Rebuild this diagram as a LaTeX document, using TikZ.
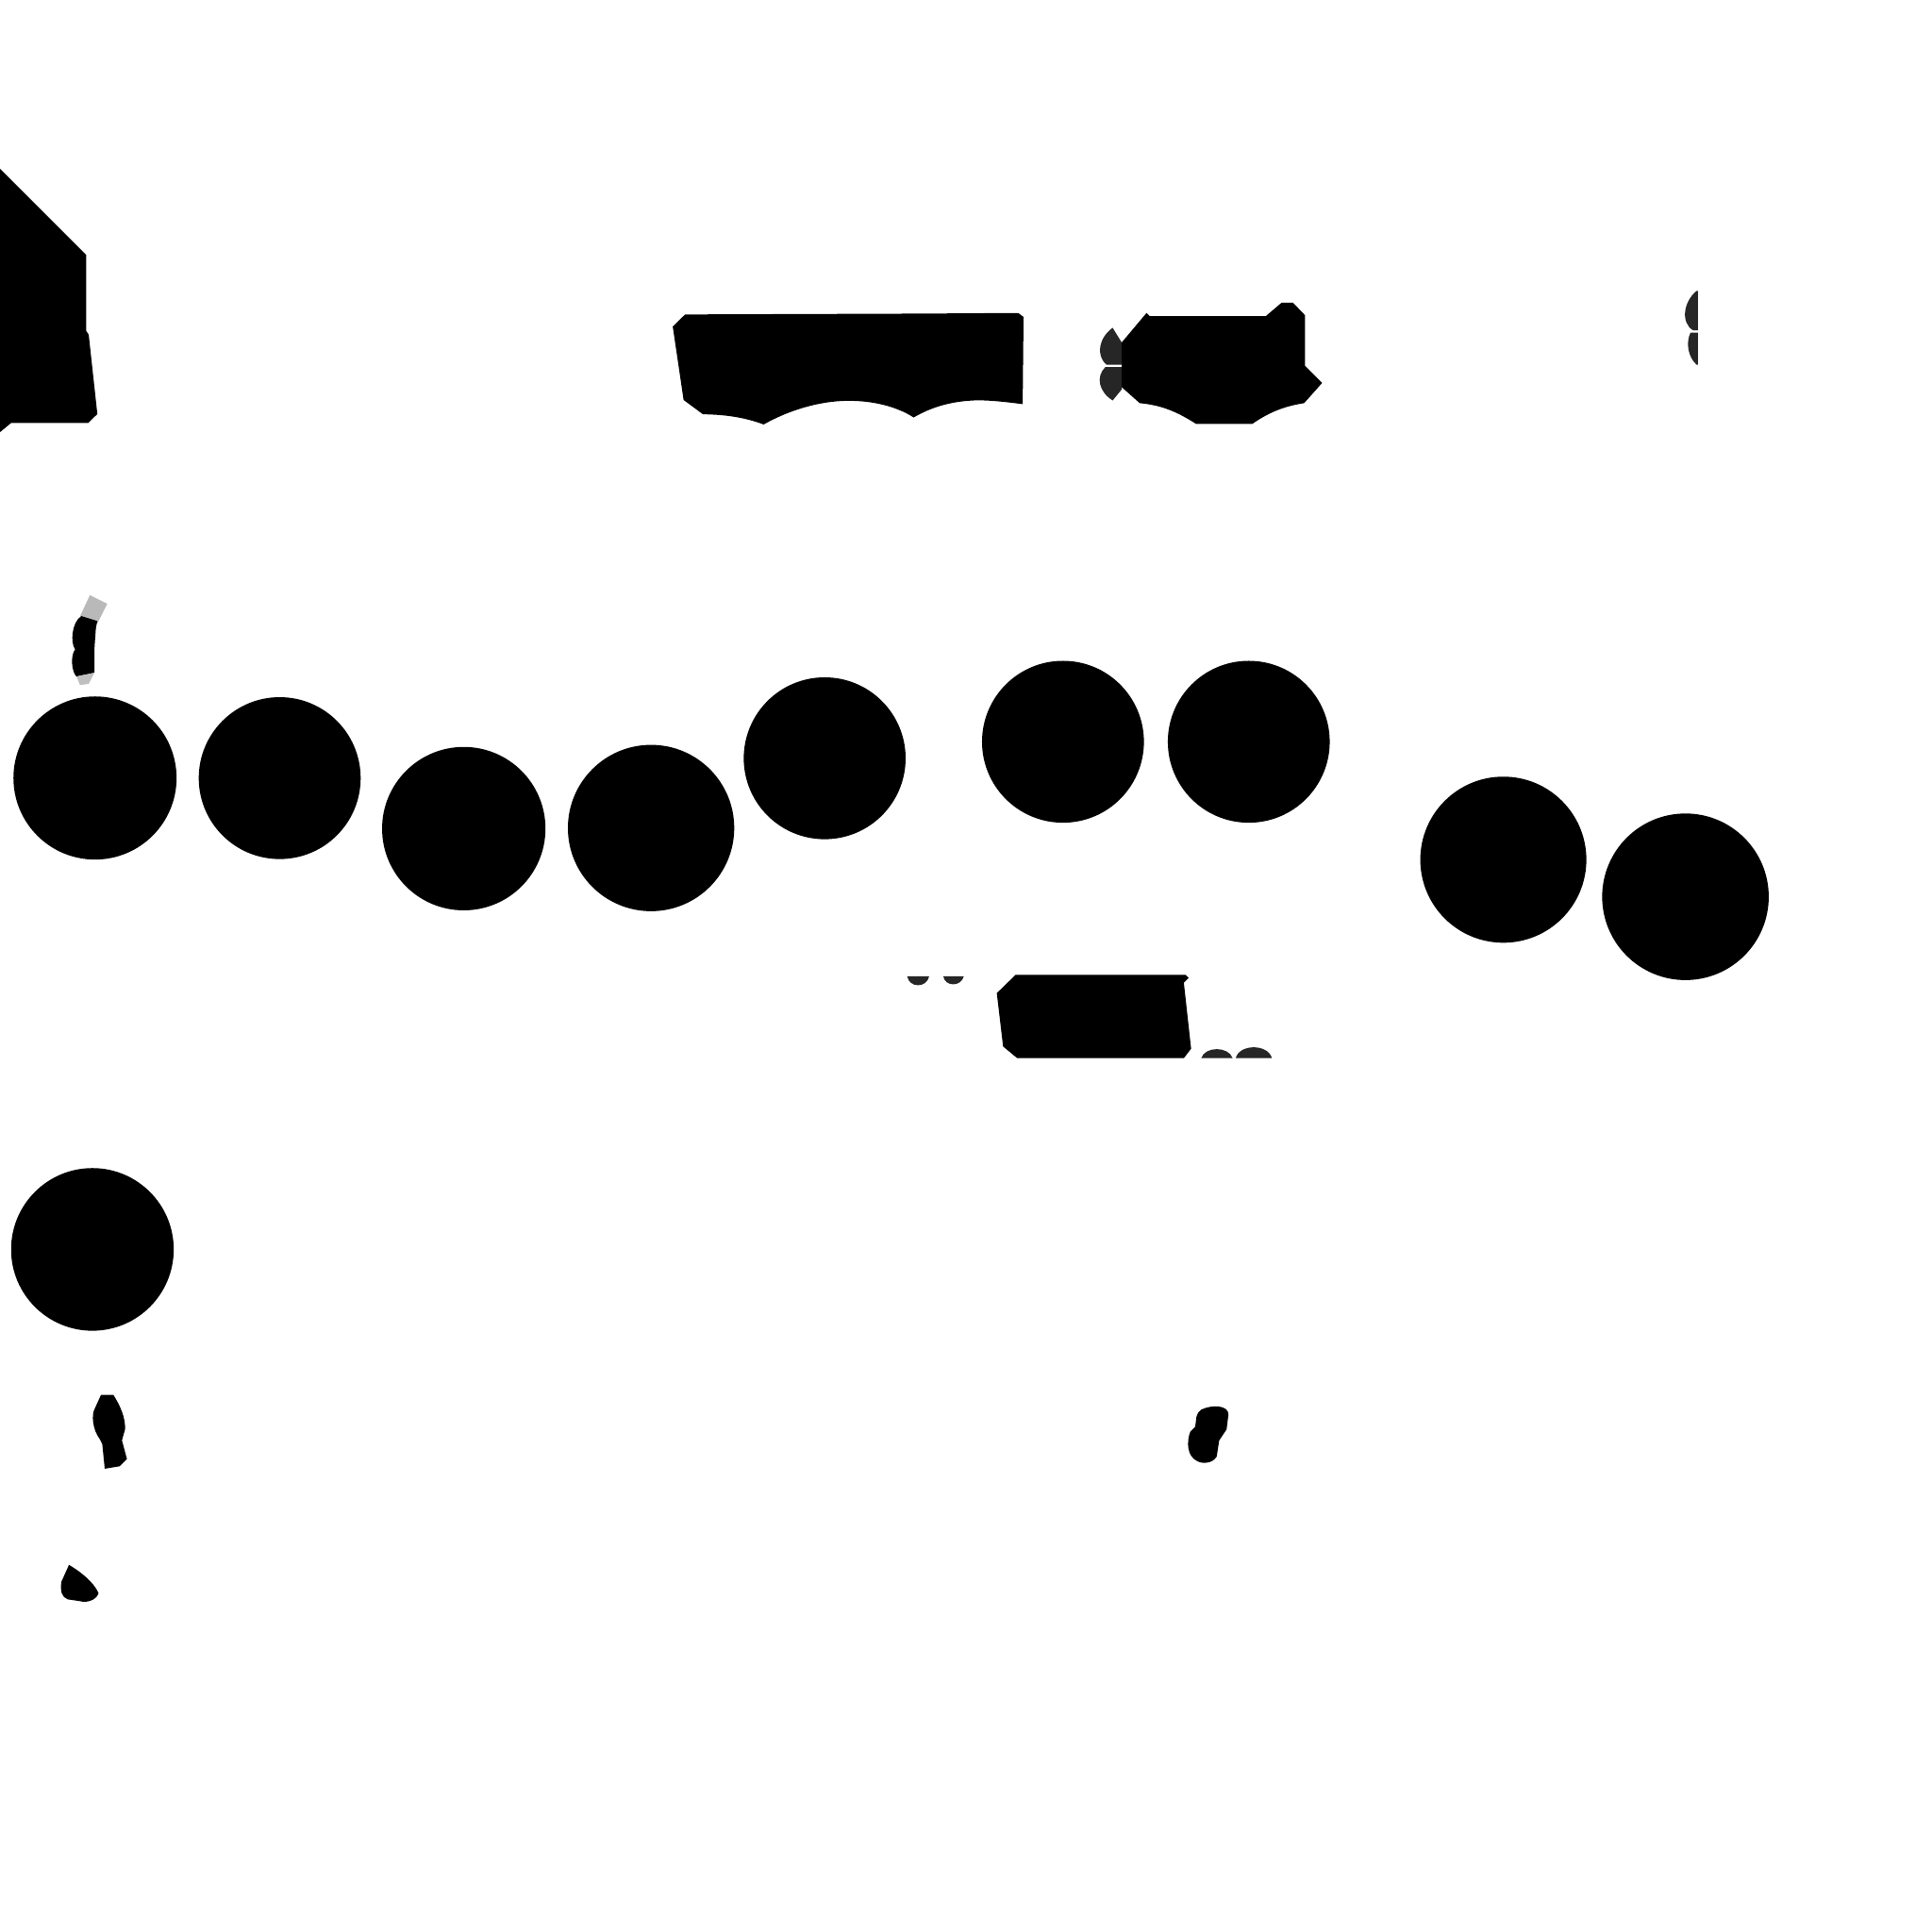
\documentclass[tikz,border=0pt]{standalone}
\begin{document}
\begin{tikzpicture}[x=0.1mm,y=-0.1mm,
  smalldot/.style={fill=black},
  bigdot/.style={fill=black},
  shade1/.style={fill=black!85}]
\useasboundingbox (0,0) rectangle (1568,1568);
% top-left polygon
\fill (0,137) -- (70,207) -- (70,268.6) -- (72,271.6) -- (79,336) -- (71.5,343.3) -- (9,343.3) -- (0,350.7) -- cycle;
% small shaded blob top-left
\fill[gray!55] (65,500) -- (73,483) -- (87,490) -- (79,506) -- cycle;
\fill (66,500) .. controls (58,505) and (57,522) .. (61,527) .. controls (57,532) and (58,545) .. (62,549) -- (76.6,546) -- (76.6,527) -- (77.8,510) -- (79,504) -- cycle;
\fill[gray!50] (62,549) -- (76.6,546) -- (72,555) -- (65,556) -- cycle;
% top shape 1
\fill (546,265) -- (556,255.2) -- (747.8,254.5) -- (826.3,254) -- (830.7,257.2) -- (830,328)
  .. controls (815,326) and (800,324.5) .. (790,325)
  .. controls (770,326) and (755,331) .. (741.5,338.8)
  .. controls (728,330) and (708,325) .. (687.5,325.3)
  .. controls (665,325.5) and (640,333) .. (619.8,344.5)
  .. controls (605,339) and (590,336.5) .. (570.5,336.2) -- (554.8,324.6) -- cycle;
% top shape 2
\fill (930.5,254) -- (933,256.5) -- (1027.4,256.5) -- (1040.2,245.6) -- (1049.3,245.6) -- (1059.2,255.9) -- (1059.2,296.9) -- (1073,310.8) -- (1058.4,327.2)
  .. controls (1040,330) and (1028,336) .. (1016.4,344) -- (970.7,344)
  .. controls (958,336) and (945,329) .. (925,327.2) -- (910.4,314.2) -- (910.4,277.9) -- cycle;
% lobes left of shape 2
\fill[shade1] (903,266) .. controls (892,274) and (889,288) .. (898,296) -- (910.4,296) -- (910.4,278) -- cycle;
\fill[shade1] (897,298) .. controls (889,306) and (892,318) .. (903,325) -- (910.4,316) -- (910.4,298) -- cycle;
% right small blob
\fill[shade1] (1377,236) .. controls (1366,245) and (1364,262) .. (1374,268) -- (1378,268) -- (1378,236) -- cycle;
\fill[shade1] (1372,270) .. controls (1368,278) and (1370,290) .. (1377,296) -- (1378,296) -- (1378,270) -- cycle;
% middle shape 3
\fill (809,806) -- (824.3,791.1) -- (962.1,791.1) -- (964.7,793.7) -- (960.8,797.5) -- (966.7,851.1) -- (960.8,858.8) -- (825.6,858.8) -- (814.1,849.3) -- cycle;
% small half blobs
\fill[shade1] (736.3,792.4) .. controls (738,802) and (752,802) .. (754.1,792.4) -- cycle;
\fill[shade1] (765.6,792.4) .. controls (767,801) and (780,801) .. (782.2,792.4) -- cycle;
\fill[shade1] (974.9,858.8) .. controls (978,849) and (997,849) .. (1000.4,858.8) -- cycle;
\fill[shade1] (1002.9,858.8) .. controls (1006,847) and (1029,847) .. (1032.3,858.8) -- cycle;
% circles
\fill[bigdot] (77.1,631.4) circle[radius=6.62mm];
\fill[bigdot] (227,631.5) circle[radius=6.57mm];
\fill[bigdot] (376.4,672.5) circle[radius=6.63mm];
\fill[bigdot] (528.4,672) circle[radius=6.75mm];
\fill[bigdot] (669.3,615.4) circle[radius=6.57mm];
\fill[bigdot] (862.7,602) circle[radius=6.57mm];
\fill[bigdot] (1013.5,602) circle[radius=6.57mm];
\fill[bigdot] (1220.1,697.7) circle[radius=6.74mm];
\fill[bigdot] (1367.9,727.8) circle[radius=6.76mm];
\fill[bigdot] (75,1014) circle[radius=6.6mm];
% bottom blobs
\fill[smalldot] (82,1132) -- (92,1132) .. controls (97,1140) and (102,1150) .. (101.5,1160) -- (99,1169) -- (103,1184) -- (97,1190) -- (85,1192) -- (83,1172) -- (81,1168) .. controls (75,1160) and (74,1148) .. (77,1143) -- cycle;
\fill[smalldot] (975,1144) .. controls (983,1140) and (997,1140) .. (997,1148) -- (995.5,1160) -- (989.5,1169) -- (987.5,1182) .. controls (984,1188) and (976,1188) .. (972,1186) .. controls (963,1182) and (963,1170) .. (966,1162) -- (970,1158) -- (971,1150) .. controls (972,1147) and (973,1145) .. (975,1144) -- cycle;
\fill[smalldot] (56,1270) .. controls (66,1276) and (76,1284) .. (80,1293) .. controls (78,1299) and (70,1301) .. (65,1299.5) -- (55,1298) .. controls (50,1296) and (49,1292) .. (49.7,1284) -- cycle;
\end{tikzpicture}
\end{document}
